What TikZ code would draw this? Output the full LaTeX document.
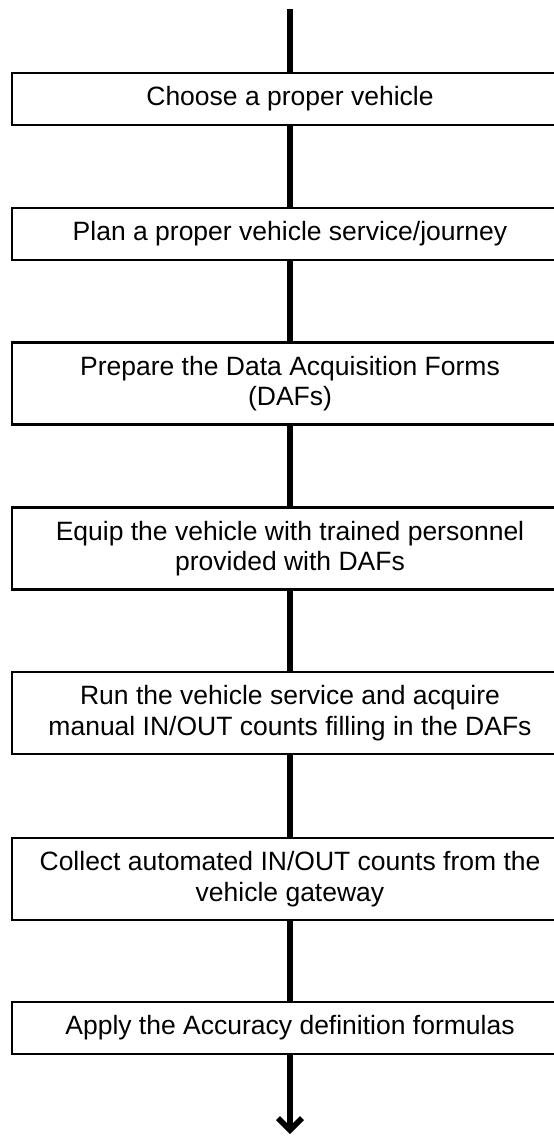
\documentclass[tikz,border=0pt]{standalone}
\usepackage{fontspec}
\setmainfont{Liberation Sans}
\usetikzlibrary{arrows.meta}
\begin{document}
\begin{tikzpicture}[x=1pt,y=1pt,
  stepbox/.style={draw=black, line width=2.6pt, fill=white, minimum width=556pt,
    align=center, inner sep=0pt, font=\fontsize{26.5}{30.5}\selectfont},
  onebox/.style={stepbox, minimum height=52pt},
  twobox/.style={stepbox, minimum height=82pt},
  flow/.style={line width=5.5pt, draw=black}
]
\useasboundingbox (0,0) rectangle (554,-1136);
\coordinate (start) at (290,-9);
\coordinate (end) at (290,-1134);
\node[onebox] (b1) at (290,-99) {Choose a proper vehicle};
\node[onebox] (b2) at (290,-234) {Plan a proper vehicle service/journey};
\node[twobox] (b3) at (290,-383.5) {Prepare the Data Acquisition Forms\\(DAFs)};
\node[twobox] (b4) at (290,-548.5) {Equip the vehicle with trained personnel\\provided with DAFs};
\node[twobox] (b5) at (290,-713) {Run the vehicle service and acquire\\manual IN/OUT counts filling in the DAFs};
\node[twobox] (b6) at (290,-879) {Collect automated IN/OUT counts from the\\vehicle gateway};
\node[onebox] (b7) at (290,-1028) {Apply the Accuracy definition formulas};
\draw[flow] (start) -- (b1.north);
\draw[flow] (b1) -- (b2);
\draw[flow] (b2) -- (b3);
\draw[flow] (b3) -- (b4);
\draw[flow] (b4) -- (b5);
\draw[flow] (b5) -- (b6);
\draw[flow] (b6) -- (b7);
\draw[flow, -{Straight Barb[length=12pt,width=24pt]}] (b7.south) -- (end);
\end{tikzpicture}
\end{document}
